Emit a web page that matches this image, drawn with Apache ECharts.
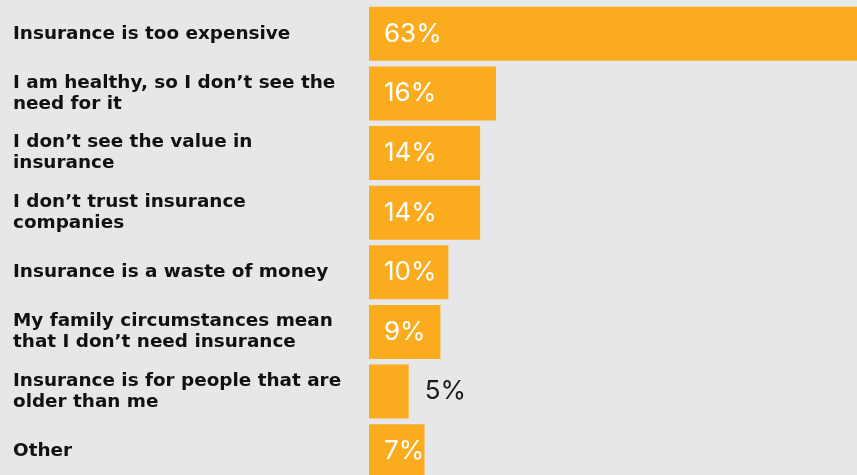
<!DOCTYPE html>
<html>
<head>
<meta charset="utf-8">
<script src="https://cdn.jsdelivr.net/npm/echarts@6/dist/echarts.min.js"></script>
<style>
  html, body { margin: 0; padding: 0; background: #e6e7e8; }
  #chart { width: 857px; height: 475px; }
</style>
</head>
<body>
<div id="chart"></div>
<script>
// Reasons for not having insurance (share of respondents, %)
const reasons = [
  'Insurance is too expensive',
  'I am healthy, so I don\u2019t see the\nneed for it',
  'I don\u2019t see the value in\ninsurance',
  'I don\u2019t trust insurance\ncompanies',
  'Insurance is a waste of money',
  'My family circumstances mean\nthat I don\u2019t need insurance',
  'Insurance is for people that are\nolder than me',
  'Other'
];
const shares = [63, 16, 14, 14, 10, 9, 5, 7];

const barColor = '#fbab1e';
const valueFont = 'Inter, "Open Sans", sans-serif';

const barData = shares.map(function (v) {
  const narrow = v < 6;
  return {
    value: v,
    label: narrow
      ? { position: 'right', distance: 16, color: '#1a1a1a' }
      : { position: 'insideLeft', distance: 15, color: '#ffffff' }
  };
});

const chart = echarts.init(document.getElementById('chart'), null, { renderer: 'canvas' });
chart.setOption({
  backgroundColor: '#e6e7e8',
  animation: false,
  grid: {
    left: 369, top: 4, width: 500, height: 477,
    containLabel: false,
    outerBoundsMode: 'none'
  },
  xAxis: {
    type: 'value',
    min: 0,
    max: 63,
    show: false
  },
  yAxis: {
    type: 'category',
    data: reasons,
    inverse: true,
    axisLine: { show: false },
    axisTick: { show: false },
    splitLine: { show: false },
    axisLabel: {
      align: 'left',
      margin: 356,
      color: '#111111',
      fontFamily: '"DejaVu Sans", sans-serif',
      fontWeight: 'bold',
      fontSize: 18.4,
      lineHeight: 21
    }
  },
  series: [{
    type: 'bar',
    data: barData,
    barCategoryGap: '9.5%',
    itemStyle: { color: barColor },
    label: {
      show: true,
      formatter: '{c}%',
      fontFamily: valueFont,
      fontSize: 26,
      fontWeight: 'normal'
    }
  }]
});
</script>
</body>
</html>
